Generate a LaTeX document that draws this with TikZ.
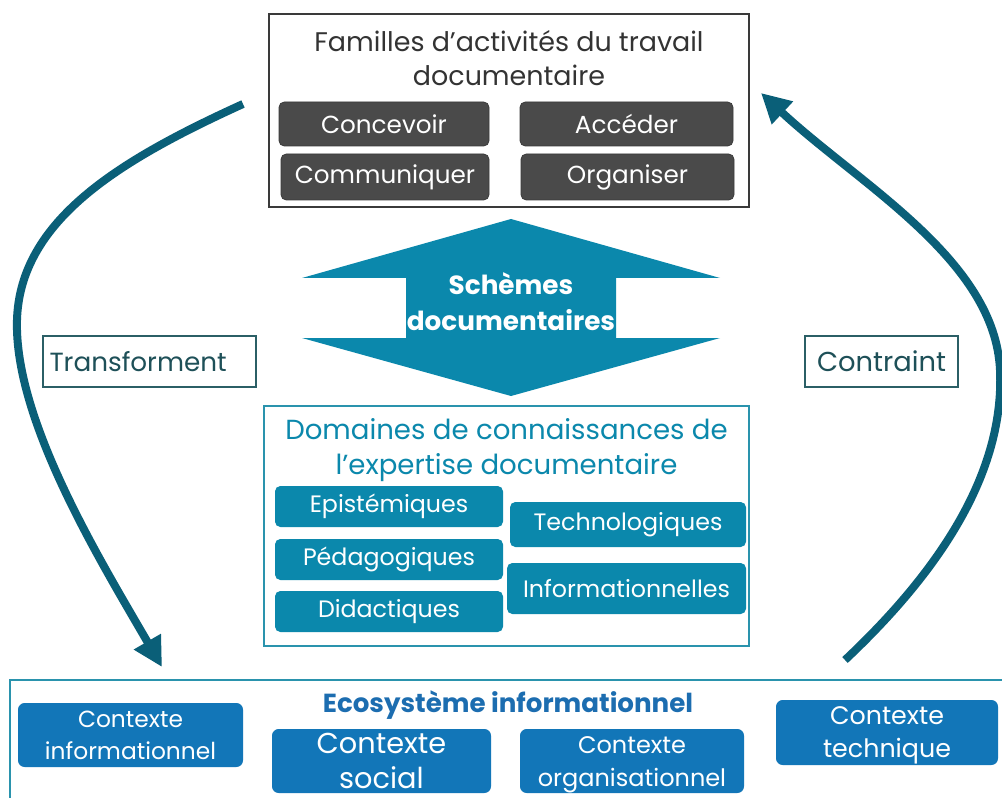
\documentclass[tikz,border=0pt]{standalone}
\usepackage{fontspec}
\setmainfont{Poppins}
\usetikzlibrary{arrows.meta}
\definecolor{cgray}{HTML}{4A4A4A}
\definecolor{cgrayline}{HTML}{3A3A3A}
\definecolor{ctxt}{HTML}{333333}
\definecolor{cteal}{HTML}{0B88AC}
\definecolor{ctealline}{HTML}{2A93AD}
\definecolor{cblue}{HTML}{1276B8}
\definecolor{cbluetxt}{HTML}{1C6DB0}
\definecolor{carrow}{HTML}{0A5F78}
\definecolor{clabel}{HTML}{1E5058}
\definecolor{clabelline}{HTML}{2B5F66}
\tikzset{
  frame/.style={inner sep=0pt, line width=1.1pt},
  graybtn/.style={fill=cgray, draw=cgrayline, line width=0.6pt, rounded corners=4pt, text=white, inner sep=0pt, font=\fontsize{18.5}{22}\selectfont},
  tealbtn/.style={fill=cteal, draw=none, rounded corners=4pt, text=white, inner sep=0pt, font=\fontsize{17.8}{21}\selectfont},
  bluebtn/.style={fill=cblue, draw=none, rounded corners=5pt, text=white, inner sep=0pt, align=center, font=\fontsize{17.5}{24}\selectfont},
  bluetext/.style={text=white, inner sep=0pt, align=center},
  labelbox/.style={draw=clabelline, line width=0.9pt, text=clabel, inner sep=0pt, font=\fontsize{19.7}{22}\selectfont},
  bigarrow/.style={draw=carrow, line width=6pt, -{Triangle[length=22pt,width=22pt]}},
}
\begin{document}
\begin{tikzpicture}[x=0.75pt,y=-0.75pt]
\clip (0,0) rectangle (1002,798);
\fill[white] (0,0) rectangle (1002,798);

% top box
\node[frame, draw=cgrayline, minimum width=360pt, minimum height=144.75pt] (top) at (509,110.5) {};
\node[text=ctxt, align=center, font=\fontsize{20.2}{25}\selectfont] (toptitle) at (509,58) {Familles d’activités du travail\\documentaire};
\node[graybtn, minimum width=157.5pt, minimum height=33pt] (concevoir) at (384,124) {Concevoir};
\node[graybtn, minimum width=159.75pt, minimum height=33pt] (acceder) at (626.5,124) {Accéder};
\node[graybtn, minimum width=156pt, minimum height=34.5pt] (communiquer) at (385,177) {Communiquer};
\node[graybtn, minimum width=159.75pt, minimum height=34.5pt] (organiser) at (627.5,177) {Organiser};

% double arrow
\fill[cteal] (511,219) -- (720,278) -- (616,278) -- (616,338) -- (720,338) -- (511,396)
  -- (302,338) -- (406,338) -- (406,278) -- (302,278) -- cycle;
\node[text=white, align=center, font=\bfseries\fontsize{19.7}{27}\selectfont] (schemes) at (511,302) {Schèmes\\documentaires};

% middle box
\node[frame, draw=ctealline, line width=0.9pt, minimum width=363.75pt, minimum height=180pt] (mid) at (506.5,526) {};
\node[text=cteal, align=center, font=\fontsize{20.7}{26}\selectfont] (midtitle) at (506.5,450) {Domaines de connaissances de\\l’expertise documentaire};
\node[tealbtn, minimum width=171pt, minimum height=30.75pt] (epist) at (389,506.5) {Epistémiques};
\node[tealbtn, minimum width=171pt, minimum height=30.75pt] (pedag) at (389,559.5) {Pédagogiques};
\node[tealbtn, minimum width=171pt, minimum height=30.75pt] (didac) at (389,611.5) {Didactiques};
\node[tealbtn, minimum width=177pt, minimum height=33.75pt] (techno) at (628,524.5) {Technologiques};
\node[tealbtn, minimum width=179.25pt, minimum height=38.25pt] (inform) at (626.5,588.5) {Informationnelles};

% labels
\node[labelbox, minimum width=159.75pt, minimum height=38.25pt, text width=150pt, align=left] (transf) at (149.5,361.5) {Transforment};
\node[labelbox, minimum width=114.75pt, minimum height=38.25pt, font=\fontsize{20.5}{22}\selectfont] (contr) at (881.5,361.5) {Contraint};

% bottom box
\draw[ctealline, line width=1.1pt] (10,680) rectangle (1040,840);
\coordinate (eco) at (508,705);
\node[text=cbluetxt, font=\bfseries\fontsize{19.6}{22}\selectfont] (ecotitle) at (eco) {Ecosystème informationnel};
\node[bluebtn, minimum width=168.75pt, minimum height=48pt] (cinfo) at (130.5,735) {Contexte\\informationnel};
\node[bluebtn, minimum width=164.25pt, minimum height=48pt, font=\fontsize{21.6}{26.5}\selectfont] (csoc) at (381.5,761) {Contexte\\social};
\node[bluebtn, minimum width=168pt, minimum height=48pt] (corg) at (632,761) {};
\node[bluetext, font=\fontsize{18}{25}\selectfont] (corgtext) at (632,765) {Contexte\\organisationnel};
\node[bluebtn, minimum width=166.5pt, minimum height=48.75pt] (ctech) at (887,732.5) {};
\node[bluetext, font=\fontsize{19}{25}\selectfont] (ctechtext) at (887,735.5) {Contexte\\technique};

% curved arrows
\coordinate (lstart) at (243,104);
\coordinate (lmid) at (17,320);
\coordinate (lend) at (162,667);
\draw[bigarrow] (lstart) .. controls (120,160) and (20,220) .. (lmid)
  .. controls (14,420) and (100,560) .. (lend);
\coordinate (rstart) at (845,660);
\coordinate (rmid) at (1000,370);
\coordinate (rend) at (761,93);
\draw[bigarrow] (rstart) .. controls (930,580) and (1005,480) .. (rmid)
  .. controls (995,260) and (860,185) .. (rend);
\end{tikzpicture}
\end{document}
